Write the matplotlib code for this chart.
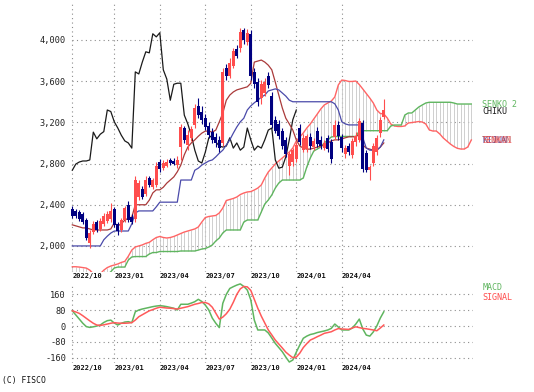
import matplotlib
matplotlib.use("Agg")
import matplotlib.pyplot as plt
import matplotlib.transforms as mtransforms
import numpy as np

plt.rcParams['font.family'] = ['DejaVu Sans Mono']

# ---------------- data (weekly) ----------------
tick_weeks = [0, 12, 25, 38, 51, 64, 77]
tick_labels = ["2022/10", "2023/01", "2023/04", "2023/07", "2023/10", "2024/01", "2024/04"]
price_ticks = [2000, 2400, 2800, 3200, 3600, 4000]
macd_ticks = [-160, -80, 0, 80, 160]

open_ = [2360, 2340, 2330, 2310, 2250, 2030, 2135, 2230, 2165, 2215,
         2240, 2260, 2360, 2215, 2155, 2250, 2400, 2280, 2260, 2475,
         2555, 2505, 2660, 2570, 2590, 2815, 2755, 2775, 2835, 2825,
         2785, 2960, 3145, 2980, 3050, 3175, 3360, 3300, 3240, 3165,
         3105, 3060, 3030, 3000, 3730, 3650, 3745, 3910, 3920, 4095,
         3980, 4060, 3690, 3590, 3435, 3485, 3650, 3455, 3225, 3185,
         3115, 3030, 2775, 2815, 2845, 3145, 2930, 2940, 3060, 2960,
         3115, 3030, 2950, 3050, 3010, 3060, 3175, 3060, 2895, 2970,
         2885, 3010, 3030, 3195, 2900, 2735, 2805, 2910, 3095, 3250]
high = [2390, 2360, 2350, 2330, 2270, 2155, 2240, 2250, 2270, 2320,
        2340, 2415, 2380, 2230, 2270, 2390, 2435, 2310, 2680, 2640,
        2580, 2680, 2680, 2660, 2815, 2845, 2835, 2845, 2855, 2855,
        2875, 3185, 3165, 3125, 3165, 3380, 3435, 3360, 3280, 3205,
        3145, 3095, 3065, 3730, 3765, 3825, 3920, 3950, 4115, 4115,
        4105, 4095, 3730, 3630, 3610, 3630, 3690, 3495, 3260, 3225,
        3145, 3060, 2910, 2950, 3010, 3185, 3085, 3085, 3095, 3050,
        3155, 3065, 3030, 3075, 3040, 3225, 3215, 3085, 2980, 3000,
        3050, 3105, 3240, 3225, 2930, 2785, 3000, 3075, 3250, 3425]
low = [2270, 2270, 2240, 2215, 2060, 1980, 2115, 2135, 2145, 2195,
       2225, 2230, 2185, 2105, 2135, 2230, 2230, 2215, 2230, 2445,
       2455, 2485, 2570, 2555, 2570, 2720, 2735, 2765, 2785, 2785,
       2755, 2835, 3000, 2930, 3020, 3145, 3240, 3185, 3125, 3050,
       3000, 2960, 2910, 2970, 3610, 3630, 3730, 3825, 3885, 3960,
       3950, 3610, 3535, 3360, 3380, 3455, 3535, 3145, 3095, 3040,
       2940, 2865, 2690, 2775, 2815, 2980, 2910, 2910, 2940, 2930,
       2960, 2940, 2930, 2910, 2805, 3040, 3030, 2910, 2855, 2885,
       2855, 2970, 3010, 2720, 2720, 2640, 2775, 2885, 3060, 3235]
close = [2290, 2290, 2260, 2230, 2075, 2125, 2215, 2155, 2240, 2290,
         2310, 2340, 2205, 2145, 2250, 2370, 2250, 2230, 2640, 2610,
         2475, 2640, 2590, 2640, 2775, 2745, 2805, 2815, 2805, 2795,
         2835, 3155, 3030, 3075, 3135, 3340, 3270, 3225, 3155, 3075,
         3030, 3000, 2950, 3690, 3650, 3775, 3895, 3845, 4075, 4000,
         4070, 3650, 3570, 3400, 3570, 3590, 3565, 3175, 3115, 3065,
         2970, 2895, 2895, 2930, 2980, 3010, 3050, 3065, 2970, 3020,
         2990, 2970, 3000, 2940, 2845, 3175, 3065, 2950, 2950, 2910,
         3020, 3065, 3215, 2745, 2735, 2765, 2970, 3050, 3225, 3320]

tenkan = [2205, 2195, 2185, 2175, 2175, 2165, 2155, 2155, 2155, 2155,
          2155, 2165, 2225, 2195, 2215, 2250, 2270, 2280, 2400, 2400,
          2400, 2400, 2445, 2515, 2545, 2545, 2570, 2610, 2640, 2670,
          2720, 2785, 2885, 2960, 3000, 3030, 3065, 3095, 3115, 3115,
          3105, 3125, 3205, 3290, 3415, 3465, 3495, 3515, 3525, 3535,
          3545, 3580, 3785, 3795, 3805, 3785, 3755, 3710, 3590, 3465,
          3340, 3240, 3185, 3125, 3030, 2970, 2950, 2940, 2940, 2950,
          2960, 2970, 2980, 3000, 3020, 3030, 3030, 3040, 3050, 3060,
          3060, 3060, 3085, 2980, 2950, 2940, 2930, 2930, 2960, 3000]
kijun = [2000, 2000, 2000, 2000, 2000, 2000, 2000, 2000, 2000, 2060,
         2095, 2125, 2145, 2145, 2145, 2145, 2145, 2215, 2320, 2340,
         2340, 2340, 2340, 2340, 2380, 2425, 2425, 2425, 2425, 2425,
         2425, 2640, 2640, 2640, 2640, 2735, 2755, 2785, 2805, 2825,
         2835, 2865, 2900, 2930, 2980, 3030, 3095, 3155, 3205, 3240,
         3320, 3360, 3390, 3415, 3445, 3465, 3505, 3515, 3525, 3515,
         3485, 3455, 3415, 3400, 3400, 3400, 3400, 3400, 3400, 3400,
         3400, 3400, 3400, 3400, 3400, 3380, 3320, 3205, 3185, 3175,
         3175, 3175, 3175, 3050, 2950, 2930, 2930, 2930, 2960, 3030]
senkou1 = [1798, 1798, 1795, 1790, 1785, 1765, 1730, 1710, 1730, 1765,
           1790, 1805, 1815, 1825, 1840, 1850, 1900, 1960, 1990, 2000,
           2010, 2025, 2035, 2060, 2082, 2092, 2082, 2077, 2082, 2092,
           2106, 2121, 2135, 2145, 2155, 2165, 2184, 2232, 2276, 2286,
           2291, 2296, 2320, 2368, 2441, 2451, 2461, 2475, 2499, 2514,
           2524, 2528, 2543, 2562, 2592, 2660, 2718, 2757, 2796, 2825,
           2854, 2883, 2912, 2951, 3019, 3058, 3097, 3145, 3184, 3233,
           3281, 3330, 3369, 3388, 3407, 3446, 3563, 3611, 3606, 3597,
           3597, 3601, 3567, 3524, 3480, 3436, 3388, 3320, 3286, 3281,
           3242, 3184, 3165, 3160, 3160, 3165, 3194, 3198, 3203, 3208,
           3203, 3184, 3126, 3116, 3116, 3087, 3048, 3019, 2990, 2966,
           2948, 2941, 2941, 2961, 3029]
senkou2 = [1690, 1690, 1690, 1690, 1690, 1690, 1690, 1690, 1690, 1690,
           1720, 1750, 1786, 1795, 1795, 1795, 1863, 1893, 1897, 1897,
           1897, 1897, 1922, 1936, 1936, 1946, 1946, 1946, 1946, 1946,
           1946, 1951, 1951, 1951, 1951, 1951, 1960, 1970, 1975, 1990,
           2010, 2048, 2077, 2126, 2155, 2155, 2155, 2155, 2155, 2232,
           2252, 2252, 2252, 2252, 2330, 2407, 2446, 2495, 2562, 2611,
           2640, 2640, 2640, 2640, 2640, 2640, 2660, 2767, 2854, 2922,
           2941, 2961, 3000, 3029, 3058, 3063, 3063, 3063, 3063, 3063,
           3063, 3063, 3116, 3119, 3119, 3119, 3119, 3119, 3119, 3119,
           3119, 3165, 3174, 3174, 3174, 3271, 3291, 3291, 3320, 3349,
           3369, 3388, 3395, 3395, 3395, 3395, 3395, 3395, 3395, 3388,
           3378, 3378, 3378, 3378, 3378]
chikou = [2735, 2795, 2815, 2825, 2825, 2835, 3105, 3040, 3085, 3110,
          3320, 3305, 3205, 3145, 3075, 3020, 3000, 2950, 3690, 3670,
          3785, 3885, 3875, 4060, 4030, 4070, 3710, 3620, 3415, 3570,
          3580, 3580, 3270, 3185, 3075, 2930, 2825, 2805, 2910, 3050,
          3075, 3010, 2970, 2960, 2970, 3050, 2950, 3000, 2930, 2960,
          3145, 3030, 2930, 2970, 2950, 3030, 3125, 3145, 2835, 2755,
          2765, 2865, 3030, 3225, 3320]

macd = [77, 56, 35, 14, -3, -7, -4, 0, 5, 18,
        27, 30, 15, 5, 14, 20, 22, 17, 72, 81,
        86, 90, 94, 98, 101, 103, 101, 98, 94, 90,
        81, 110, 110, 110, 116, 123, 135, 124, 106, 81,
        40, 14, -8, 115, 160, 190, 199, 207, 213, 200,
        182, 132, 30, -20, -20, -20, -35, -61, -88, -109,
        -130, -157, -182, -172, -132, -96, -62, -51, -43, -39,
        -33, -29, -25, -20, -12, 10, -5, -20, -20, -20,
        -10, 10, 35, -15, -46, -51, -30, 0, 40, 72]
signal = [77, 71, 64, 52, 39, 26, 14, 5, 3, 6,
          10, 14, 17, 15, 14, 14, 15, 17, 30, 47,
          57, 67, 77, 83, 90, 95, 93, 91, 90, 88,
          86, 90, 94, 98, 104, 110, 114, 119, 119, 112,
          95, 65, 35, 45, 62, 85, 120, 160, 188, 200,
          198, 180, 135, 90, 50, 15, -20, -45, -71, -91,
          -111, -132, -147, -160, -157, -137, -109, -89, -71, -63,
          -54, -46, -37, -33, -29, -20, -13, -15, -16, -17,
          -10, -4, -8, -12, -14, -17, -20, -24, -10, 5]

# ---------------- styling ----------------
C_UP = '#ff4d4d'
C_DN = '#000080'
C_TENKAN = '#aa3a3a'
C_KIJUN = '#4a4aaa'
C_S1 = '#ff6464'
C_S2 = '#5fb55f'
C_HATCH = '#c8c8c8'
C_GRID = '#8c8c8c'
GRID_LS = (0, (1, 3))

W, H = 534, 392
PXW = 3.5
X0 = 72.3
xmin, xmax = -1.2, 114.6
left = X0 + xmin * PXW
width = (xmax - xmin) * PXW

fig = plt.figure(figsize=(W / 100, H / 100), dpi=100)
ax = fig.add_axes([left / W, (H - 272) / H, width / W, 272 / H])
axm = fig.add_axes([left / W, (H - 363) / H, width / W, 81 / H])

ax.set_xlim(xmin, xmax)
ax.set_ylim(1747, 4388)
axm.set_xlim(xmin, xmax)
axm.set_ylim(-187, 222.6)

for a in (ax, axm):
    for s in a.spines.values():
        s.set_visible(False)
    a.set_xticks([])
    a.tick_params(axis='y', length=0, pad=1.5, labelsize=6.2, labelcolor='#222222')
    a.patch.set_alpha(0)

ax.set_yticks(price_ticks)
ax.set_yticklabels([f"{v:,}" for v in price_ticks])
axm.set_yticks(macd_ticks)
axm.set_yticklabels([str(v) for v in macd_ticks])

# grid
ax.hlines(price_ticks, 0, 114.5, colors=C_GRID, linestyles=GRID_LS, lw=0.8, zorder=0)
axm.hlines(macd_ticks, 0, 114.5, colors=C_GRID, linestyles=GRID_LS, lw=0.8, zorder=0)
ax.vlines(tick_weeks, 1747, 4358, colors=C_GRID, linestyles=GRID_LS, lw=0.8, zorder=0)
axm.vlines(tick_weeks, -187, 218, colors=C_GRID, linestyles=GRID_LS, lw=0.8, zorder=0)

# x labels
for a, yfrac in ((ax, -0.016), (axm, -0.064)):
    tr = mtransforms.blended_transform_factory(a.transData, a.transAxes)
    for w, lab in zip(tick_weeks, tick_labels):
        a.text(w, yfrac, lab, transform=tr, ha='left', va='center',
               fontsize=5.0, fontweight='bold', color='#111111')

# cloud
xs = np.arange(len(senkou1))
s1 = np.array(senkou1, float)
s2 = np.array(senkou2, float)
ax.vlines(xs, np.minimum(s1, s2), np.maximum(s1, s2), colors=C_HATCH, lw=0.6, zorder=1)
ax.plot(xs, s1, color=C_S1, lw=1.0, zorder=2)
ax.plot(xs, s2, color=C_S2, lw=1.0, zorder=2)

# chikou, tenkan, kijun
ax.plot(np.arange(len(chikou)), chikou, color='#1a1a1a', lw=0.9, zorder=3)
xc = np.arange(len(close))
ax.plot(xc, tenkan, color=C_TENKAN, lw=0.9, zorder=3)
ax.plot(xc, kijun, color=C_KIJUN, lw=0.9, zorder=3)

# candles
o = np.array(open_, float)
c = np.array(close, float)
hi = np.array(high, float)
lo = np.array(low, float)
cols = [C_UP if cc >= oo else C_DN for oo, cc in zip(o, c)]
ax.vlines(xc, lo, hi, colors=cols, lw=0.8, zorder=5)
ax.bar(xc, np.maximum(np.abs(c - o), 8), bottom=np.minimum(o, c), width=0.85,
       color=cols, linewidth=0, zorder=6)

# line labels at right
lx = 117.1
ax.text(lx, senkou2[-1], "SENKO 2", color=C_S2, fontsize=6, va='center', ha='left')
ax.text(lx, chikou[-1] - 15, "CHIKU", color='#1a1a1a', fontsize=6, va='center', ha='left')
ax.text(lx, senkou1[-1] - 10, "KIJUN", color=C_KIJUN, fontsize=6, va='center', ha='left')
ax.text(lx, senkou1[-1] - 10, "TENKAN", color=C_TENKAN, fontsize=6, va='center', ha='left', alpha=0.8)
ax.text(lx, senkou1[-1] - 10, "SENKO1", color=C_S1, fontsize=6, va='center', ha='left', alpha=0.8)

# MACD
axm.plot(xc, macd, color=C_S2, lw=1.1, zorder=3)
axm.plot(xc, signal, color='#ff5a5a', lw=1.1, zorder=3)
trm = mtransforms.blended_transform_factory(axm.transData, axm.transAxes)
axm.text(lx, (363 - 288) / 81, "MACD", color=C_S2, fontsize=6, va='center', ha='left', transform=trm)
axm.text(lx, (363 - 297) / 81, "SIGNAL", color='#ff4d4d', fontsize=6, va='center', ha='left', transform=trm)

fig.text(2 / W, 1 - 380 / H, "(C) FISCO", fontsize=5.8, va='center', ha='left', color='#111111')

fig.savefig("out.png", dpi=100)
